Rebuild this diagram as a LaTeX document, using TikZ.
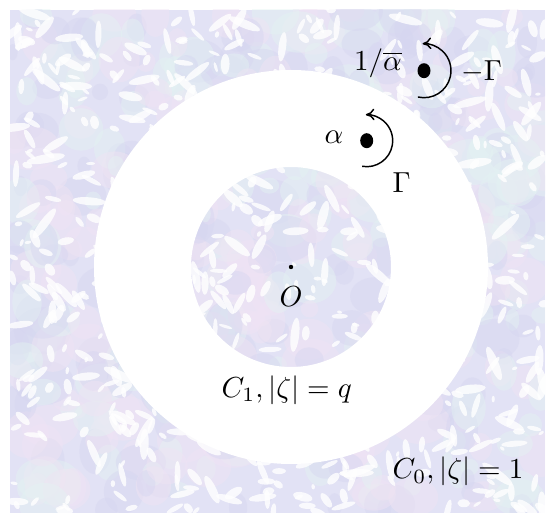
\documentclass[tikz,border=0pt]{standalone}
\usetikzlibrary{arrows.meta}
\definecolor{texbase}{RGB}{226,226,245}
\definecolor{texA}{RGB}{240,228,244}
\definecolor{texB}{RGB}{228,243,242}
\definecolor{texC}{RGB}{214,214,240}
\tikzset{
  lbl/.style={inner sep=1pt},
  bigdot/.style={fill=black},
  circarrow/.style={line width=0.5pt,-{To[length=3pt,width=4pt]}}
}
\begin{document}
\begin{tikzpicture}[x=0.345pt,y=0.345pt]
\useasboundingbox (0,0) rectangle (549,517);
\pgfmathsetseed{12}
\begin{scope}
  \clip (10,4) rectangle (545,507);
  \fill[texbase] (10,4) rectangle (545,507);
  \foreach \i in {1,...,500}{
    \pgfmathsetmacro\xx{10+535*rnd}
    \pgfmathsetmacro\yy{4+503*rnd}
    \pgfmathsetmacro\rr{8+16*rnd}
    \pgfmathsetmacro\ss{0.6+0.8*rnd}
    \pgfmathtruncatemacro\cc{int(3*rnd)}
    \ifcase\cc \def\col{texA}\or \def\col{texB}\else \def\col{texC}\fi
    \fill[\col, opacity=0.45] (\xx,\yy) ellipse ({\rr*\ss} and {\rr});
  }
  \foreach \i in {1,...,700}{
    \pgfmathsetmacro\xx{10+535*rnd}
    \pgfmathsetmacro\yy{4+503*rnd}
    \pgfmathsetmacro\rr{1.5+3*rnd}
    \pgfmathsetmacro\ss{1.5+3*rnd}
    \pgfmathsetmacro\ang{180*rnd}
    \fill[white, opacity=0.8, rotate around={\ang:(\xx,\yy)}] (\xx,\yy) ellipse ({\rr*\ss} and {\rr});
  }
\end{scope}
% white annulus
\coordinate (O) at (291,250);
\fill[white, even odd rule] (O) circle (197) (O) circle (100);
% centre
\fill (O) circle (2.2);
\node[lbl] (Olab) at (291,220) {$O$};
% alpha
\coordinate (a) at (366.7,376.3);
\fill[bigdot] (a) ellipse (6.5 and 7.5);
\node[lbl] (alab) at (334,380) {$\alpha$};
\draw[circarrow] ([shift={(-100:26)}]a) arc[start angle=-100, end angle=92, radius=26];
\node[lbl] (G) at (401.7,334) {$\Gamma$};
% 1/alpha bar
\coordinate (b) at (424,446.3);
\fill[bigdot] (b) ellipse (6.5 and 7.5);
\node[lbl] (blab) at (378,454) {$1/\overline{\alpha}$};
\draw[circarrow] ([shift={(-103:27)}]b) arc[start angle=-103, end angle=93, radius=27];
\node[lbl] (mG) at (481.7,445.3) {$-\Gamma$};
% circle labels
\node[lbl] (C1) at (286.7,127) {$C_1, |\zeta| = q$};
\node[lbl] (C0) at (458,45.3) {$C_0, |\zeta| = 1$};
\end{tikzpicture}
\end{document}
